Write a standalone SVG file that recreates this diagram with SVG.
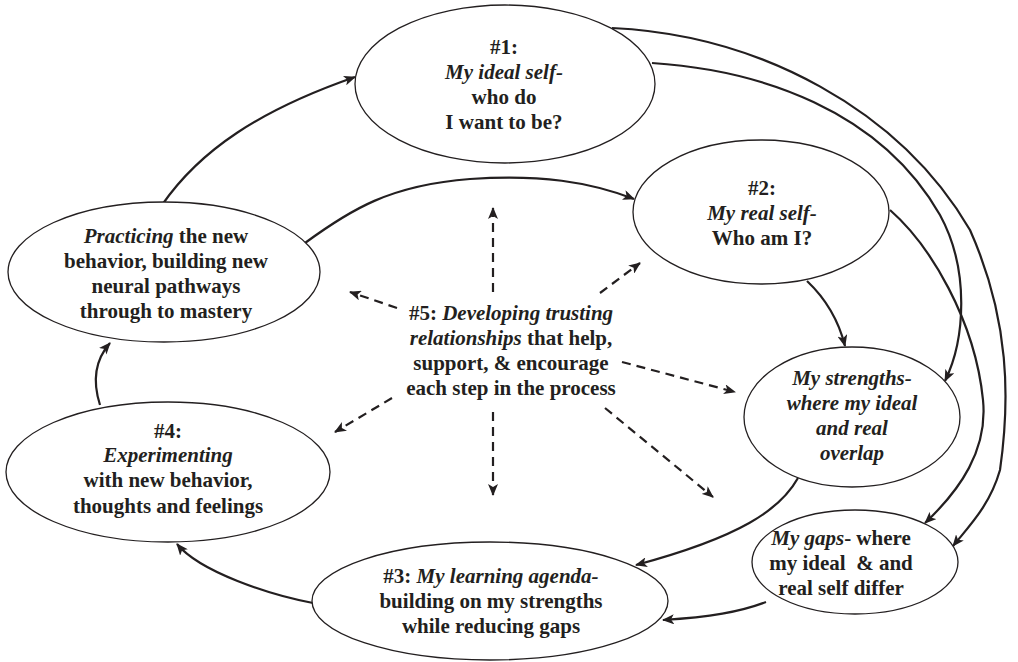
<svg xmlns="http://www.w3.org/2000/svg" width="1018" height="662" viewBox="0 0 1018 662">
<style>
.node ellipse{fill:#fff;stroke:#231f20;stroke-width:1.3}
text{font-family:"Liberation Serif","Times New Roman",serif;font-weight:bold;font-size:21px;fill:#231f20;text-anchor:middle}
.i{font-style:italic}
.c path{fill:none;stroke:#231f20;stroke-width:2.2;marker-end:url(#ah)}
.c .d{stroke-dasharray:9 6;stroke-width:2.2}
</style>
<defs>
<marker id="ah" viewBox="0 0 12 10" refX="11" refY="5" markerWidth="12" markerHeight="10" markerUnits="userSpaceOnUse" orient="auto">
<path d="M0,0 L12,5 L0,10 L3,5 Z" fill="#231f20"/>
</marker>
</defs>
<rect width="1018" height="662" fill="#fff"/>
<g class="c" id="connectors">
<path d="M162,205 C200,150 260,110 355,77"/>
<path d="M305,243 C350,210 390,185 470,179 C540,174 590,182 634,199"/>
<path d="M807,281 C825,298 838,318 845,346"/>
<path d="M890,210 C930,245 975,320 983,400 C988,450 960,490 925,523"/>
<path d="M652,63 C760,70 880,110 940,215 C970,270 965,340 945,381"/>
<path d="M612,28 C760,35 900,110 970,230 C1010,320 1010,400 1000,470 C990,505 970,525 953,546"/>
<path d="M798,478 C780,510 740,537 636,565"/>
<path d="M766,602 C740,612 710,617 663,620"/>
<path d="M313,603 C270,595 200,572 177,544"/>
<path d="M100,405 C92,380 95,360 110,343"/>
<path class="d" d="M493,292 L493,208"/>
<path class="d" d="M493,412 L493,495"/>
<path class="d" d="M397,308 L350,292"/>
<path class="d" d="M600,293 L640,263"/>
<path class="d" d="M622,362 L735,392"/>
<path class="d" d="M392,398 L335,432"/>
<path class="d" d="M605,408 L713,497"/>
</g>
<g class="node" id="n1">
<ellipse cx="505" cy="84" rx="150" ry="79"/>
<text x="504" y="54">#1:</text>
<text x="504" y="79" class="i">My ideal self-</text>
<text x="504" y="104">who do</text>
<text x="504" y="129">I want to be?</text>
</g>
<g class="node" id="n2">
<ellipse cx="761" cy="212" rx="128" ry="72"/>
<text x="762" y="195">#2:</text>
<text x="762" y="220" class="i">My real self-</text>
<text x="762" y="245">Who am I?</text>
</g>
<g class="node" id="practicing">
<ellipse cx="164" cy="272" rx="156" ry="70"/>
<text x="166" y="243"><tspan class="i">Practicing</tspan> the new</text>
<text x="166" y="268">behavior, building new</text>
<text x="166" y="293">neural pathways</text>
<text x="166" y="318">through to mastery</text>
</g>
<g class="node" id="strengths">
<ellipse cx="852" cy="417" rx="108" ry="70"/>
<text x="852" y="385" class="i">My strengths-</text>
<text x="852" y="410" class="i">where my ideal</text>
<text x="852" y="435" class="i">and real</text>
<text x="852" y="460" class="i">overlap</text>
</g>
<g class="node" id="gaps">
<ellipse cx="855" cy="562" rx="103" ry="52"/>
<text x="841" y="545"><tspan class="i">My gaps</tspan>- where</text>
<text x="841" y="570" xml:space="preserve">my ideal  &amp; and</text>
<text x="841" y="595">real self differ</text>
</g>
<g class="node" id="n3">
<ellipse cx="490" cy="601" rx="178" ry="59"/>
<text x="491" y="583">#3: <tspan class="i">My learning agenda-</tspan></text>
<text x="491" y="608">building on my strengths</text>
<text x="491" y="633">while reducing gaps</text>
</g>
<g class="node" id="n4">
<ellipse cx="168" cy="472" rx="162" ry="70"/>
<text x="168" y="438">#4:</text>
<text x="168" y="462" class="i">Experimenting</text>
<text x="168" y="487">with new behavior,</text>
<text x="168" y="513">thoughts and feelings</text>
</g>
<g id="n5">
<text x="511" y="320">#5: <tspan class="i">Developing trusting</tspan></text>
<text x="511" y="345"><tspan class="i">relationships</tspan> that help,</text>
<text x="511" y="370">support, &amp; encourage</text>
<text x="511" y="395">each step in the process</text>
</g>
</svg>
